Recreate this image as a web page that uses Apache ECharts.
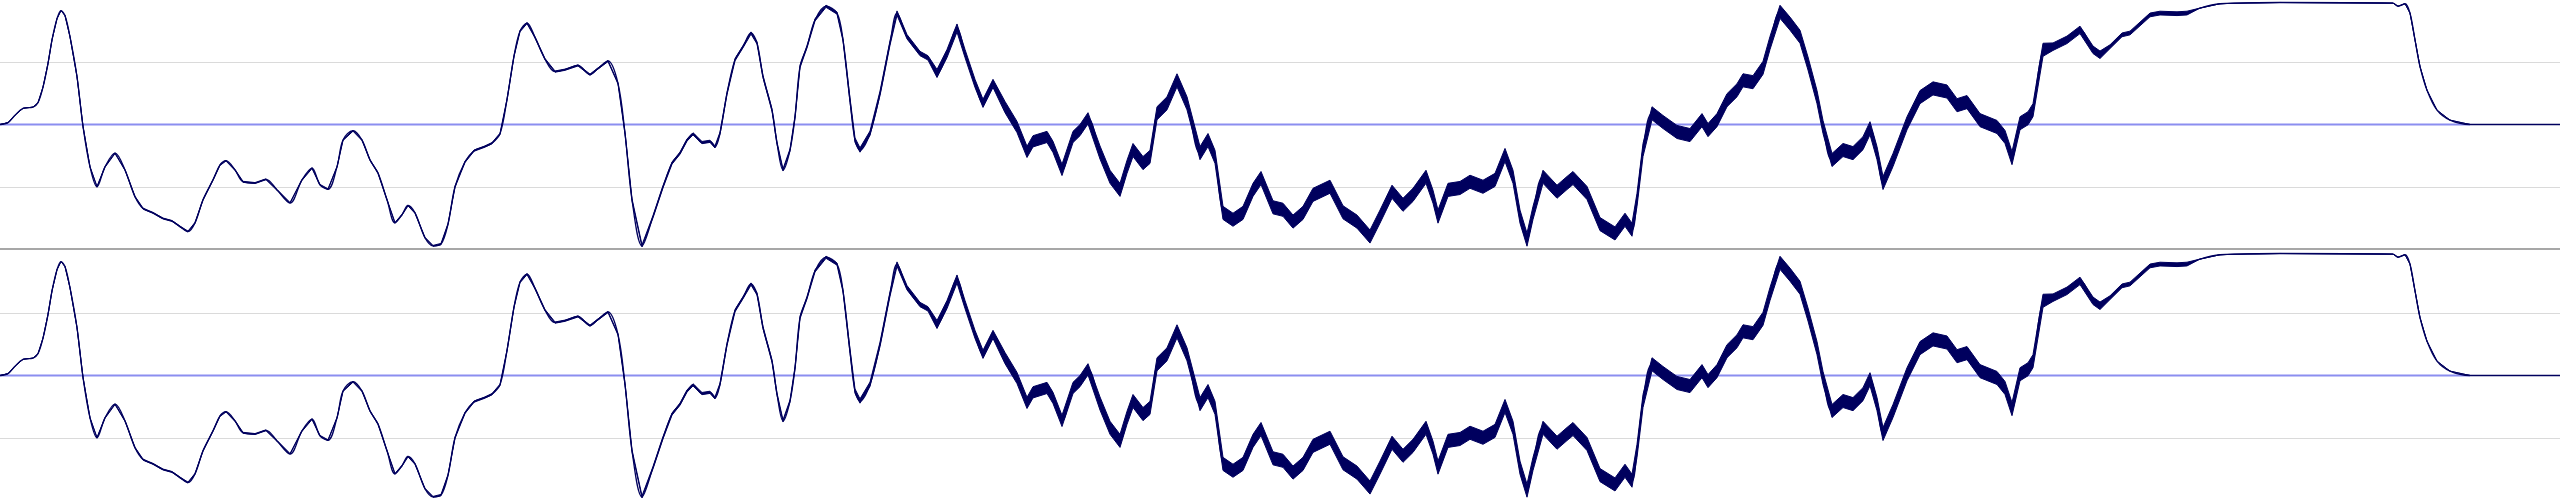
<!DOCTYPE html>
<html>
<head>
<meta charset="utf-8">
<script src="https://cdn.jsdelivr.net/npm/echarts@6/dist/echarts.min.js"></script>
<style>html,body{margin:0;padding:0;background:#fff;}#c{width:2560px;height:500px;}</style>
</head>
<body>
<div id="c"></div>
<script>
// x positions (sample index) and values
const xs = [0,8,15,23,33,38,43,48,52,57,61,65,70,77,83,90,97,105,115,125,135,143,153,163,172,180,188,195,203,213,220,226,235,243,255,266,277,290,302,312,320,328,337,343,353,362,370,378,387,395,402,408,415,425,433,441,448,455,465,474,484,492,500,507,514,520,527,535,545,555,565,578,590,598,608,618,625,632,642,653,663,672,680,687,693,702,710,715,720,727,735,743,751,757,763,772,777,783,790,795,800,807,815,826,837,843,850,855,860,870,880,890,897,907,920,928,937,947,957,965,975,983,993,1005,1017,1027,1033,1047,1053,1062,1073,1080,1088,1100,1110,1120,1127,1133,1143,1150,1157,1167,1177,1187,1200,1208,1215,1223,1233,1243,1253,1261,1273,1283,1293,1303,1313,1330,1343,1357,1370,1380,1392,1403,1413,1426,1433,1438,1448,1460,1470,1483,1495,1505,1513,1520,1527,1533,1543,1557,1567,1573,1587,1600,1615,1625,1632,1637,1643,1652,1663,1677,1690,1702,1708,1717,1727,1737,1743,1753,1763,1770,1780,1790,1800,1808,1817,1823,1832,1843,1853,1863,1870,1877,1883,1893,1907,1920,1933,1947,1957,1967,1980,1997,2005,2012,2020,2028,2033,2043,2053,2067,2080,2093,2100,2110,2122,2130,2150,2160,2177,2187,2200,2220,2240,2280,2393,2398,2405,2410,2415,2420,2427,2437,2450,2470,2560];
const ys = [0,0.03,0.15,0.26,0.28,0.35,0.6,0.98,1.36,1.7,1.83,1.75,1.41,0.77,-0.03,-0.68,-1.0,-0.68,-0.46,-0.73,-1.16,-1.35,-1.42,-1.51,-1.55,-1.64,-1.72,-1.58,-1.21,-0.89,-0.65,-0.58,-0.73,-0.92,-0.94,-0.88,-1.05,-1.26,-0.89,-0.70,-0.97,-1.04,-0.68,-0.25,-0.10,-0.25,-0.57,-0.78,-1.21,-1.58,-1.45,-1.30,-1.42,-1.82,-1.95,-1.92,-1.6,-1.0,-0.6,-0.42,-0.36,-0.3,-0.15,0.4,1.1,1.5,1.63,1.4,1.05,0.85,0.88,0.95,0.8,0.9,1.02,0.66,-0.14,-1.21,-1.95,-1.48,-1.0,-0.62,-0.46,-0.25,-0.15,-0.29,-0.27,-0.36,-0.14,0.5,1.04,1.25,1.47,1.31,0.77,0.23,-0.3,-0.73,-0.41,0.12,0.93,1.25,1.68,1.9,1.79,1.36,0.39,-0.25,-0.41,-0.14,0.5,1.31,1.79,1.41,1.14,1.07,0.82,1.14,1.55,1.14,0.66,0.34,0.66,0.28,-0.04,-0.44,-0.27,-0.2,-0.36,-0.73,-0.2,-0.09,0.1,-0.45,-0.84,-1.05,-0.68,-0.41,-0.62,-0.52,0.18,0.34,0.71,0.34,-0.46,-0.25,-0.52,-1.42,-1.53,-1.42,-1.05,-0.86,-1.33,-1.37,-1.56,-1.42,-1.13,-1.0,-1.41,-1.56,-1.8,-1.48,-1.08,-1.29,-1.13,-0.84,-1.16,-1.48,-1.05,-1.02,-0.92,-1.0,-0.89,-0.49,-0.84,-1.48,-1.85,-1.42,-0.84,-1.08,-0.94,-0.86,-1.1,-1.6,-1.75,-1.53,-1.69,-1.21,-0.41,0.18,0.04,-0.12,-0.17,0.07,-0.09,0.07,0.39,0.55,0.71,0.68,0.91,1.31,1.81,1.62,1.41,0.98,0.44,-0.04,-0.57,-0.41,-0.46,-0.3,-0.06,-0.46,-0.94,-0.57,0.02,0.44,0.58,0.53,0.31,0.36,0.07,-0.04,-0.2,-0.54,0.02,0.1,0.23,1.2,1.25,1.36,1.52,1.2,1.12,1.25,1.44,1.47,1.76,1.79,1.78,1.79,1.87,1.94,1.95,1.96,1.95,1.9,1.94,1.79,1.36,0.93,0.55,0.23,0.07,0,0];
// vertical spread of the noisy trace, per x range: [start, end, spread]
const noiseZones = [[95,440,0.015],[440,620,0.02],[620,850,0.035],[850,930,0.07],[930,1000,0.13],[1000,1100,0.18],[1100,2045,0.21],[2045,2110,0.12],[2110,2200,0.06]];
// extent of the blue zero baseline
const baselineX = [0, 2470];
const yTicks = [-2, -1, 0, 1, 2];

function spreadAt(x){
  for (const z of noiseZones) if (x >= z[0] && x < z[1]) return z[2];
  return 0;
}
const center = xs.map((x,i)=>[x, ys[i]]);
const base = baselineX.map(x=>[x, 0]);

const NAVY = '#00005e';
const SM = 0.35;

function bandRender(params, api){
  const upper = [], lower = [];
  for (let i = 0; i < xs.length; i++){
    const s = spreadAt(xs[i]) / 2;
    upper.push(api.coord([xs[i], ys[i] + s]));
    lower.push(api.coord([xs[i], ys[i] - s]));
  }
  const pts = upper.concat(lower.reverse());
  return {type:'polygon', shape:{points:pts}, style:{fill:NAVY, stroke:NAVY, lineWidth:1, lineJoin:'round'}};
}

function seriesFor(g){
  return [
    {type:'line', xAxisIndex:g, yAxisIndex:g, data:base, symbol:'none', silent:true,
     lineStyle:{color:'#8b8ef0', width:2}, z:1},
    {type:'custom', xAxisIndex:g, yAxisIndex:g, data:[center[0]], renderItem:bandRender, silent:true, z:2},
    {type:'line', xAxisIndex:g, yAxisIndex:g, data:center, symbol:'none', smooth:SM, silent:true,
     lineStyle:{color:NAVY, width:1.3}, z:3}
  ];
}
const chart = echarts.init(document.getElementById('c'), null, {renderer:'canvas'});
const yAxisBase = {
  type:'value', min:yTicks[0], max:yTicks[yTicks.length-1], interval:1,
  axisLabel:{show:false}, axisTick:{show:false}, axisLine:{show:false},
  splitLine:{show:true, showMinLine:false, showMaxLine:false, lineStyle:{color:'#dadada', width:1}}
};
chart.setOption({
  animation:false,
  backgroundColor:'#ffffff',
  grid:[{left:0,right:0,top:0,height:249},{left:0,right:0,top:251,height:249}],
  xAxis:[
    {type:'value', gridIndex:0, min:0, max:2560, position:'bottom',
     axisLine:{show:true, onZero:false, lineStyle:{color:'#8a8a8a', width:1.5}},
     axisTick:{show:false}, axisLabel:{show:false}, splitLine:{show:false}},
    {type:'value', gridIndex:1, min:0, max:2560,
     axisLine:{show:false}, axisTick:{show:false}, axisLabel:{show:false}, splitLine:{show:false}}
  ],
  yAxis:[Object.assign({gridIndex:0}, yAxisBase), Object.assign({gridIndex:1}, yAxisBase)],
  series: seriesFor(0).concat(seriesFor(1))
});
</script>
</body>
</html>
